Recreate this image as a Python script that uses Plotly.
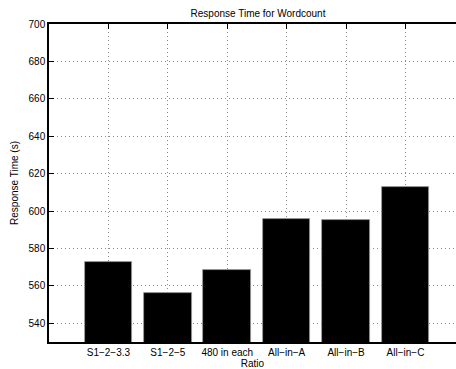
import plotly.graph_objects as go

categories = ["S1\u22122\u22123.3", "S1\u22122\u22125", "480 in each", "All\u2212in\u2212A", "All\u2212in\u2212B", "All\u2212in\u2212C"]
positions = [1, 2, 3, 4, 5, 6]
response_times = [573.0, 556.2, 568.7, 595.8, 595.4, 612.6]
y_ticks = [540, 560, 580, 600, 620, 640, 660, 680, 700]

FONT = "Liberation Sans, Arial, Helvetica, sans-serif"
GRID = "#8a8a8a"

fig = go.Figure()
fig.add_trace(go.Bar(
    x=positions, y=response_times, width=0.8,
    marker=dict(color="black", line=dict(color="#9a9a9a", width=0.8)),
    showlegend=False,
))
# invisible trace for the top axis
fig.add_trace(go.Scatter(x=[positions[0]], y=[response_times[0]], xaxis="x2",
                         mode="markers", marker=dict(opacity=0), showlegend=False,
                         hoverinfo="skip"))

fig.update_layout(
    width=456, height=369,
    margin=dict(l=49, r=0, t=24, b=27),
    paper_bgcolor="white", plot_bgcolor="white",
    font=dict(family=FONT, size=10, color="black"),
    title=dict(text="Response Time for Wordcount", x=258/456, xanchor="center",
               y=1 - 13/369, yanchor="middle", font=dict(size=10)),
    bargap=0,
    xaxis=dict(
        range=[0, 6.85], tickmode="array", tickvals=positions, ticktext=categories,
        ticks="inside", ticklen=5, tickcolor="black", tickwidth=1,
        showline=True, linecolor="black", linewidth=1.5,
        showgrid=True, gridcolor=GRID, griddash="1px,3px", gridwidth=1,
        zeroline=False,
        title=dict(text="Ratio", standoff=2, font=dict(size=10)),
    ),
    xaxis2=dict(
        overlaying="x", matches="x", side="top", range=[0, 6.85],
        tickmode="array", tickvals=positions, showticklabels=False,
        ticks="inside", ticklen=5, tickcolor="black",
        showline=True, linecolor="black", linewidth=1.5, showgrid=False, zeroline=False,
    ),
    yaxis=dict(
        range=[530, 700], tickmode="array", tickvals=y_ticks,
        ticks="inside", ticklen=5, tickcolor="black",
        showline=True, linecolor="black", linewidth=1.5,
        showgrid=True, gridcolor=GRID, griddash="1px,3px", gridwidth=1,
        zeroline=False,
        title=dict(text="Response Time (s)", standoff=8, font=dict(size=10)),
    ),
)

fig.write_html("out.html")
